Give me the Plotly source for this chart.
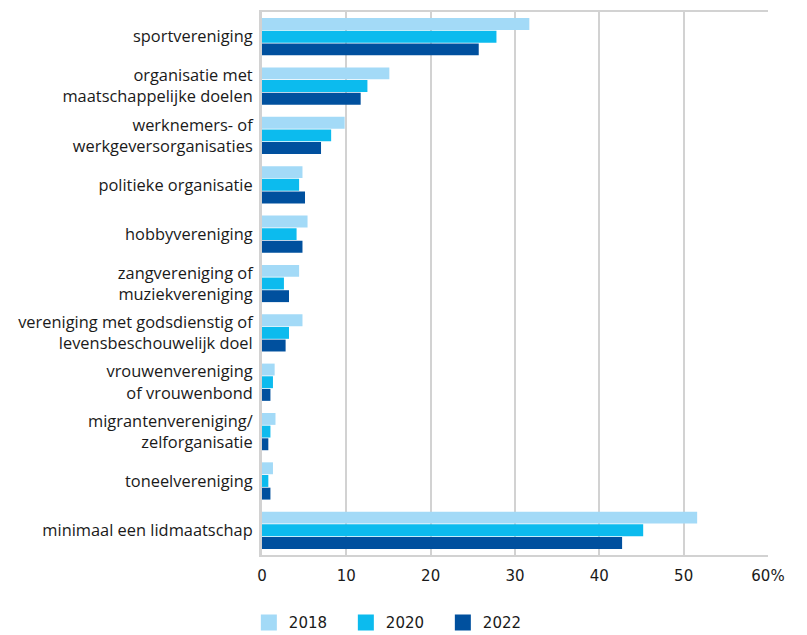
import plotly.graph_objects as go

categories = [
    "sportvereniging",
    "organisatie met<br>maatschappelijke doelen",
    "werknemers- of<br>werkgeversorganisaties",
    "politieke organisatie",
    "hobbyvereniging",
    "zangvereniging of<br>muziekvereniging",
    "vereniging met godsdienstig of<br>levensbeschouwelijk doel",
    "vrouwenvereniging<br>of vrouwenbond",
    "migrantenvereniging/<br>zelforganisatie",
    "toneelvereniging",
    "minimaal een lidmaatschap",
]
v2018 = [31.7, 15.1, 9.8, 4.8, 5.4, 4.4, 4.8, 1.5, 1.6, 1.3, 51.6]
v2020 = [27.8, 12.5, 8.2, 4.4, 4.1, 2.6, 3.2, 1.3, 1.0, 0.75, 45.2]
v2022 = [25.7, 11.7, 7.0, 5.1, 4.8, 3.2, 2.8, 1.0, 0.75, 1.0, 42.7]
years = ["2018", "2020", "2022"]
colors = ["#a3daf7", "#0cbbee", "#00509e"]
tick_vals = [0, 10, 20, 30, 40, 50, 60]
tick_text = ["0", "10", "20", "30", "40", "50", "60%"]

fig = go.Figure()
for name, vals, col in zip(years, [v2018, v2020, v2022], colors):
    fig.add_trace(go.Bar(
        y=categories, x=vals, name=name, orientation="h",
        marker=dict(color=col, line=dict(width=0)),
        legendgroup=name, showlegend=False,
        hoverinfo="x+name",
    ))
# legend entries with larger square symbols
for name, col in zip(years, colors):
    fig.add_trace(go.Scatter(
        x=[None], y=[None], mode="markers", name=name, legendgroup=name,
        marker=dict(symbol="square", size=22, color=col),
        showlegend=True, hoverinfo="skip",
    ))

grid = "#d2d2d2"
fig.update_layout(
    width=799, height=627,
    margin=dict(l=254, r=39, t=2, b=80),
    barmode="group", bargap=0.23, bargroupgap=0.06,
    plot_bgcolor="white", paper_bgcolor="white",
    font=dict(family="Open Sans", size=16, color="#1a1a1a"),
    showlegend=True,
    legend=dict(orientation="h", x=-0.026, xanchor="left",
                yref="container", y=0.046, yanchor="top",
                traceorder="normal", entrywidth=52, entrywidthmode="pixels",
                font=dict(family="DejaVu Sans", size=15, color="#1a1a1a")),
    xaxis=dict(range=[0, 60], tickvals=tick_vals, ticktext=tick_text,
               showgrid=True, gridcolor=grid, gridwidth=2,
               showline=True, linecolor=grid, linewidth=2, mirror=True,
               zeroline=False, ticks="", ticklen=0, ticklabelstandoff=6,
               tickfont=dict(family="DejaVu Sans", size=15, color="#1a1a1a")),
    yaxis=dict(autorange="reversed", showline=True, linecolor=grid, linewidth=3,
               mirror=False, showgrid=False, ticks="", ticklen=0,
               ticklabelstandoff=3, automargin=False,
               tickfont=dict(family="Open Sans", size=16.4, color="#1a1a1a")),
)
fig.write_html("out.html")
